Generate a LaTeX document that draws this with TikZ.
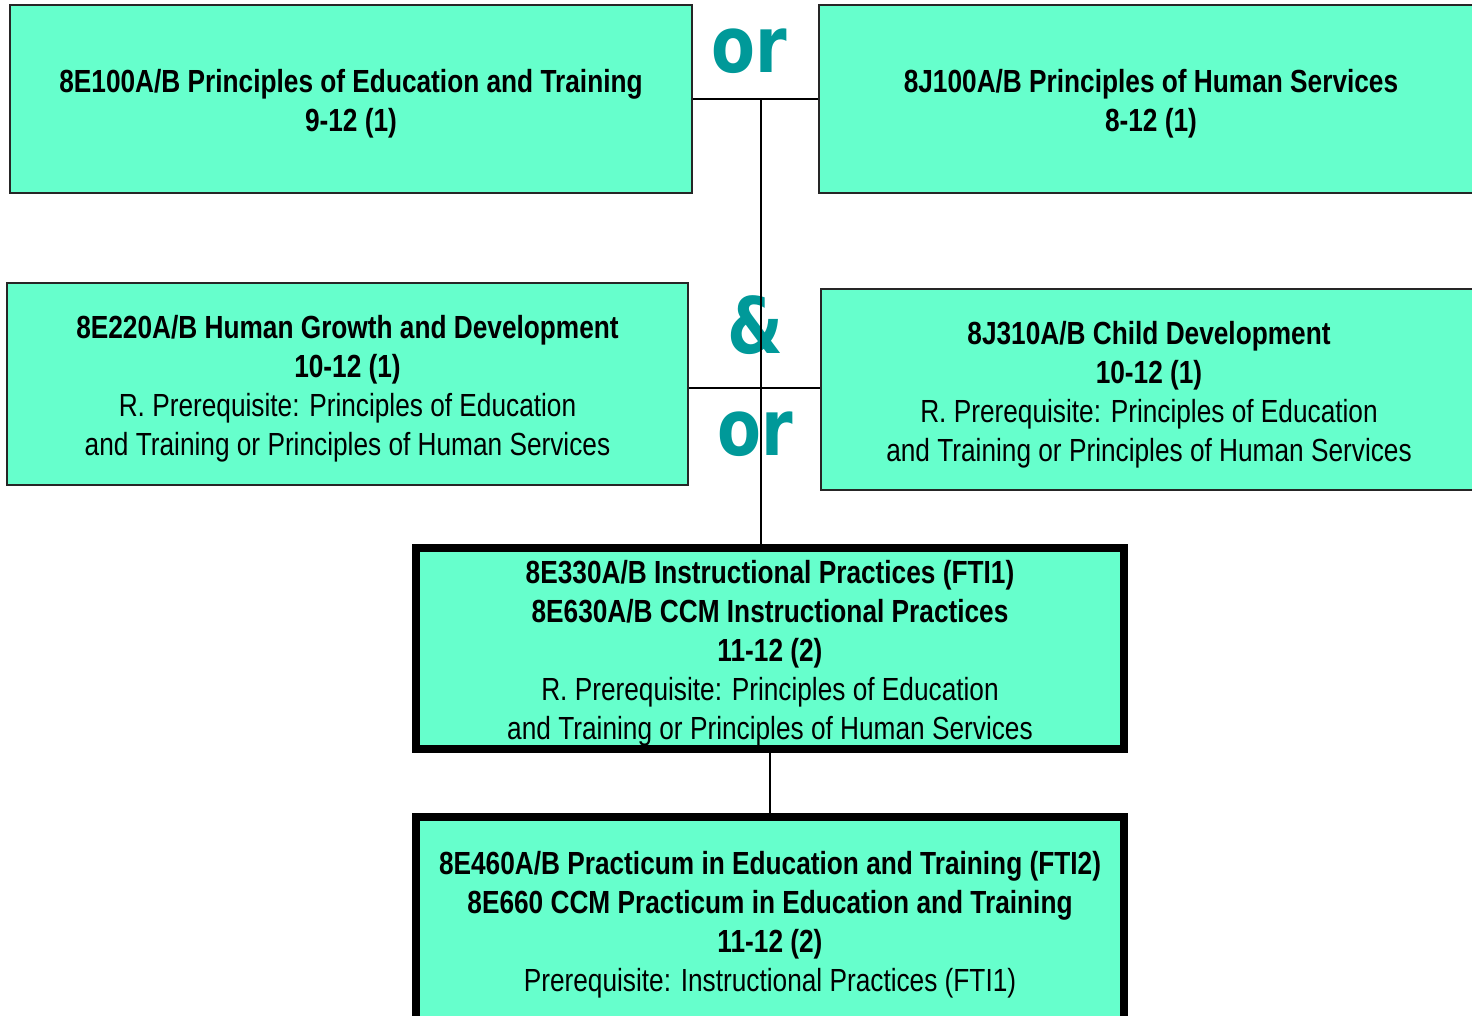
\documentclass[tikz,border=0pt]{standalone}
\usepackage{xcolor}
\usepackage{fontspec}
\setmainfont{Liberation Sans}[FakeStretch=0.82]
\newfontfamily\orfont{DejaVu Sans}[FakeStretch=0.82]
\usepackage{tikz}
\usetikzlibrary{
  positioning,
  calc
}
\definecolor{menta}{HTML}{66FFCC}
\definecolor{petroleo}{HTML}{009999}
% escoras para centrar o texto como no original
\newcommand{\alto}{\rule{0pt}{33pt}}
\newcommand{\fundo}{\rule[-7pt]{0pt}{7pt}}

\begin{document}
\begin{tikzpicture}[
        x=1pt, y=-1pt,
        caixa/.style={draw=black!85, line width=1.6pt, fill=menta, align=center,
          inner sep=0pt, font=\fontsize{32}{39}\selectfont},
        caixagrossa/.style={caixa, draw=black, line width=7.5pt},
        liga/.style={line width=2.6pt, black},
        ou/.style={font=\orfont\bfseries\fontsize{78}{78}\selectfont, text=petroleo, inner sep=0pt}
    ]
        \useasboundingbox (0,0) rectangle (1472,1015);

        % Primeira linha: escolha de curso inicial
        \node[caixa, minimum width=682pt, minimum height=188pt] (edu) at (351,99)
          {\alto\textbf{8E100A/B Principles of Education and Training}\\\textbf{9-12 (1)}\fundo};
        \node[caixa, minimum width=664pt, minimum height=188pt] (hs) at (1151,99)
          {\alto\textbf{8J100A/B Principles of Human Services}\\\textbf{8-12 (1)}\fundo};

        % Segunda linha
        \node[caixa, minimum width=681pt, minimum height=202pt] (hgd) at (347.5,384)
          {\alto\textbf{8E220A/B Human Growth and Development}\\\textbf{10-12 (1)}\\
           R. Prerequisite: Principles of Education\\and Training or Principles of Human Services\fundo};
        \node[caixa, minimum width=656pt, minimum height=201pt] (cd) at (1149,389.5)
          {\alto\textbf{8J310A/B Child Development}\\\textbf{10-12 (1)}\\
           R. Prerequisite: Principles of Education\\and Training or Principles of Human Services\fundo};

        % Cursos FTI
        \node[caixagrossa, minimum width=708pt, minimum height=201pt] (ip) at (770,648.5)
          {\alto\textbf{8E330A/B Instructional Practices (FTI1)}\\\textbf{8E630A/B CCM Instructional Practices}\\
           \textbf{11-12 (2)}\\R. Prerequisite: Principles of Education\\
           and Training or Principles of Human Services\fundo};
        \node[caixagrossa, minimum width=708pt, minimum height=205pt] (pr) at (770,919.5)
          {\alto\textbf{8E460A/B Practicum in Education and Training (FTI2)}\\
           \textbf{8E660 CCM Practicum in Education and Training}\\
           \textbf{11-12 (2)}\\Prerequisite: Instructional Practices (FTI1)\fundo};

        % Rótulos
        \node[ou] (ou1) at (749,51) {or};
        \node[ou] (and) at (755,325) {\&};
        \node[ou] (ou2) at (755,434) {or};

        % Ligações
        \coordinate (juncA) at (761,99);
        \coordinate (juncB) at (761,388);
        \draw[liga] (edu.east) -- (hs.west);
        \draw[liga] (juncA) -- (juncA |- ip.north);
        \draw[liga] (juncB -| hgd.east) -- (juncB -| cd.west);
        \draw[liga] (ip.south) -- (pr.north);
    \end{tikzpicture}
\end{document}
